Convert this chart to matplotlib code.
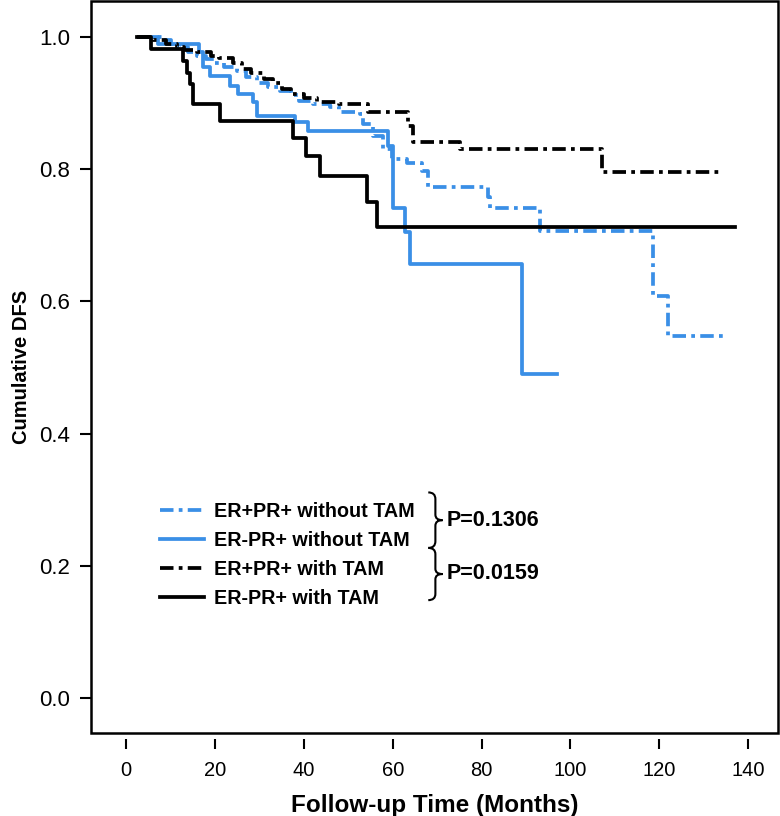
import numpy as np
import matplotlib
matplotlib.use('Agg')
from matplotlib import pyplot as plt
from matplotlib.path import Path
from matplotlib.patches import PathPatch, Rectangle

plt.rcParams['font.family'] = ['Liberation Sans', 'DejaVu Sans']

# Kaplan-Meier steps: (time in months, DFS after the event)
erpr_no_tam_t = [3, 8, 10, 12, 14, 16, 18, 20, 22, 25, 27, 29.4, 32, 34.6, 37, 39, 42,
                 45.9, 48, 52.6, 53.3, 55.6, 57.8, 59.8, 63.2, 66.6, 68, 81.5, 81.9,
                 93.1, 118.6, 122, 135.4]
erpr_no_tam_s = [1.0, 0.995, 0.99, 0.985, 0.978, 0.972, 0.966, 0.961, 0.955, 0.948, 0.94,
                 0.931, 0.925, 0.919, 0.912, 0.903, 0.898, 0.894, 0.886, 0.883, 0.868,
                 0.85, 0.83, 0.815, 0.81, 0.797, 0.773, 0.758, 0.742, 0.707, 0.608,
                 0.547, 0.547]

ernpr_no_tam_t = [3, 7.2, 16.3, 17.4, 18.9, 23.4, 25.2, 28.6, 29.4, 38, 41, 59, 60.1,
                  62.8, 63.9, 89.2, 97]
ernpr_no_tam_s = [1.0, 0.99, 0.977, 0.955, 0.941, 0.926, 0.914, 0.901, 0.881, 0.871,
                  0.858, 0.835, 0.742, 0.705, 0.656, 0.49, 0.49]

erpr_tam_t = [2.5, 6, 9, 11.5, 13, 16, 19, 21, 24, 26, 28, 31, 33, 35, 37, 40, 43, 48,
              54.4, 63.4, 64.6, 75.1, 107, 134]
erpr_tam_s = [1.0, 0.995, 0.99, 0.985, 0.98, 0.977, 0.972, 0.968, 0.96, 0.952, 0.945,
              0.937, 0.93, 0.922, 0.914, 0.907, 0.901, 0.898, 0.886, 0.865, 0.841, 0.83,
              0.796, 0.796]

ernpr_tam_t = [2.5, 5.5, 12.9, 13.6, 14.3, 15.1, 21.1, 37.6, 40.5, 43.6, 54.2, 56.5, 137]
ernpr_tam_s = [1.0, 0.982, 0.964, 0.946, 0.929, 0.898, 0.873, 0.847, 0.82, 0.789, 0.75,
               0.712, 0.712]

labels = ['ER+PR+ without TAM', 'ER-PR+ without TAM', 'ER+PR+ with TAM', 'ER-PR+ with TAM']
p_values = ['P=0.1306', 'P=0.0159']

blue = '#3a8fe6'
dashdot = (3.6, 1.4, 1.0, 1.4)

fig = plt.figure(figsize=(7.8, 8.16), dpi=100)
ax = fig.add_axes([91 / 780, 83 / 816, 687 / 780, 732 / 816])

lw = 2.7
ax.step(erpr_no_tam_t, erpr_no_tam_s, where='post', color=blue, lw=lw,
        dashes=dashdot, label=labels[0])
ax.step(ernpr_no_tam_t, ernpr_no_tam_s, where='post', color=blue, lw=lw, label=labels[1])
ax.step(erpr_tam_t, erpr_tam_s, where='post', color='black', lw=lw,
        dashes=dashdot, label=labels[2])
ax.step(ernpr_tam_t, ernpr_tam_s, where='post', color='black', lw=lw, label=labels[3])

ax.set_xlim(-7.9, 146.7)
ax.set_ylim(-0.053, 1.0545)
ax.set_xticks(np.arange(0, 141, 20))
ax.set_yticks(np.arange(0, 1.01, 0.2))
ax.set_yticklabels([f'{v:.1f}' for v in np.arange(0, 1.01, 0.2)])

# box drawn separately, x ticks sit detached below it
for sp in ax.spines.values():
    sp.set_visible(False)
ax.spines['bottom'].set_position(('outward', 4))
ax.add_patch(Rectangle((0, 0), 1, 1, transform=ax.transAxes, fill=False,
                       lw=1.8, ec='black', clip_on=False, zorder=5))
ax.tick_params(axis='x', length=7.5, width=1.5, pad=9, labelsize=14.5)
ax.tick_params(axis='y', length=8, width=1.5, pad=7, labelsize=16)

ax.set_xlabel('Follow-up Time (Months)', fontsize=17.5, fontweight='bold', labelpad=10)
ax.set_ylabel('Cumulative DFS', fontsize=14.5, fontweight='bold', labelpad=6)

leg = ax.legend(loc='upper left', bbox_to_anchor=(0.075, 0.3395), frameon=False,
                prop={'weight': 'bold', 'size': 14.2}, handlelength=2.2,
                handletextpad=0.5, labelspacing=0.5)


def brace(x0, x1, y0, y1):
    xm = (x0 + x1) / 2
    ym = (y0 + y1) / 2
    h = y1 - y0
    verts = [(x0, y1), (xm, y1), (xm, y1 - 0.12 * h),
             (xm, ym + 0.1 * h),
             (xm, ym), (x1, ym),
             (xm, ym), (xm, ym - 0.1 * h),
             (xm, y0 + 0.12 * h),
             (xm, y0), (x0, y0)]
    codes = [Path.MOVETO, Path.CURVE3, Path.CURVE3, Path.LINETO,
             Path.CURVE3, Path.CURVE3, Path.CURVE3, Path.CURVE3,
             Path.LINETO, Path.CURVE3, Path.CURVE3]
    ax.add_patch(PathPatch(Path(verts, codes), fill=False, lw=1.5, ec='black'))


brace(68.0, 71.2, 0.227, 0.311)
brace(68.0, 71.2, 0.148, 0.227)
ax.text(72.2, 0.269, p_values[0], fontsize=15.5, fontweight='bold', va='center')
ax.text(72.2, 0.188, p_values[1], fontsize=15.5, fontweight='bold', va='center')

plt.savefig('out.png', dpi=100)
